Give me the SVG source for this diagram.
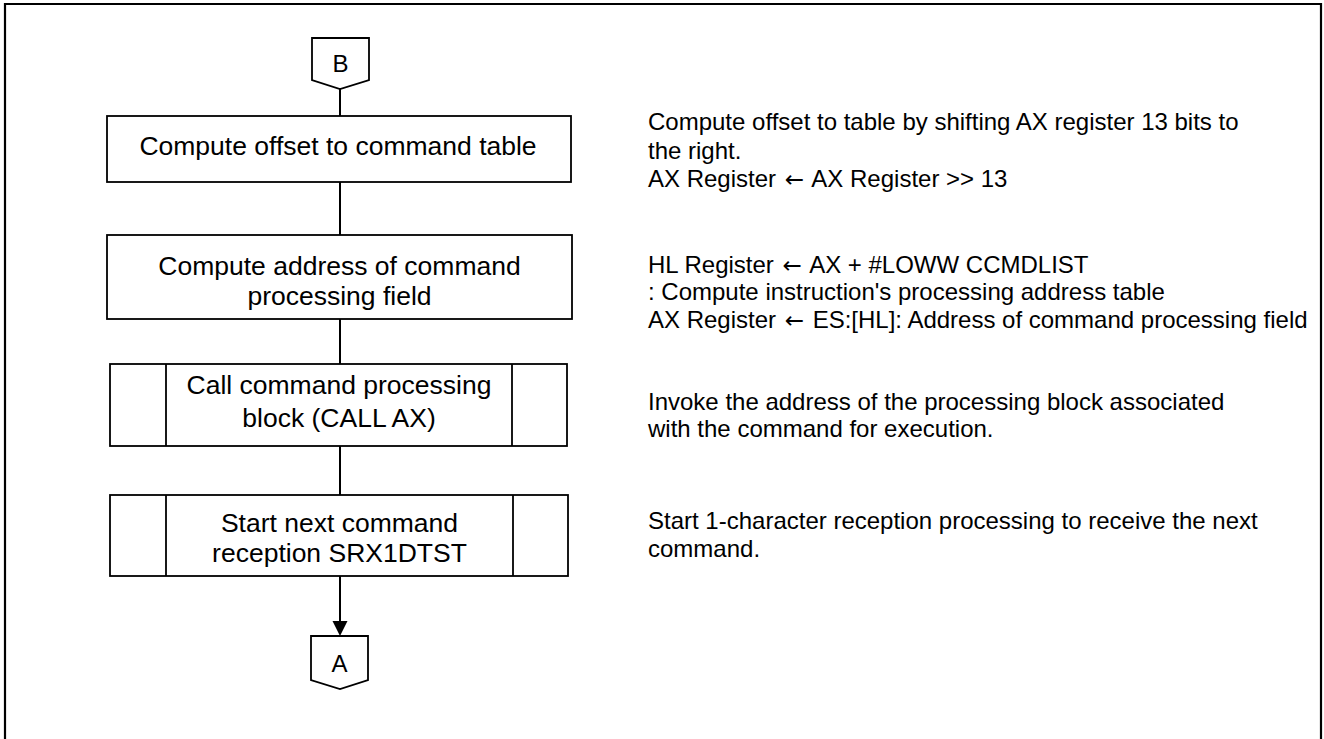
<svg xmlns="http://www.w3.org/2000/svg" width="1324" height="739" viewBox="0 0 1324 739">
<defs>
<style>
.bx{fill:#fff;stroke:#000;stroke-width:1.8}
.ln{fill:none;stroke:#000;stroke-width:2}
.bt{font-family:"Liberation Sans",Arial,sans-serif;font-size:26.5px;fill:#000;text-anchor:middle}
.ct{font-family:"Liberation Sans",Arial,sans-serif;font-size:24px;fill:#000;text-anchor:middle}
.rt{font-family:"Liberation Sans",Arial,sans-serif;font-size:24px;fill:#000}
.ar{font-family:"DejaVu Sans",sans-serif;font-size:23px}
</style>
</defs>
<rect width="1324" height="739" fill="#fff"/>
<path d="M5,745 V4 H1321 V745" fill="none" stroke="#000" stroke-width="2.2"/>

<g id="connectors">
<line class="ln" x1="340" y1="89" x2="340" y2="116"/>
<line class="ln" x1="340" y1="182" x2="340" y2="235"/>
<line class="ln" x1="340" y1="319" x2="340" y2="364"/>
<line class="ln" x1="340" y1="446" x2="340" y2="495"/>
<line class="ln" x1="340" y1="576" x2="340" y2="622"/>
<path d="M332.5,621 L347.5,621 L340,636 Z" fill="#000"/>
</g>

<g id="connB">
<polygon class="bx" points="312,38 369,38 369,80 340,89 312,80"/>
<text class="ct" x="340.5" y="72">B</text>
</g>

<g id="box1">
<rect class="bx" x="107" y="116" width="464" height="66"/>
<text class="bt" x="338" y="155">Compute offset to command table</text>
</g>

<g id="box2">
<rect class="bx" x="107" y="235" width="465" height="84"/>
<text class="bt" x="339.5" y="275">Compute address of command</text>
<text class="bt" x="339.5" y="305">processing field</text>
</g>

<g id="box3">
<rect class="bx" x="110" y="364" width="457" height="82"/>
<line class="bx" x1="166" y1="364" x2="166" y2="446"/>
<line class="bx" x1="512" y1="364" x2="512" y2="446"/>
<text class="bt" x="339" y="394">Call command processing</text>
<text class="bt" x="339" y="427">block (CALL AX)</text>
</g>

<g id="box4">
<rect class="bx" x="110" y="495" width="458" height="81"/>
<line class="bx" x1="166" y1="495" x2="166" y2="576"/>
<line class="bx" x1="513" y1="495" x2="513" y2="576"/>
<text class="bt" x="339.5" y="532">Start next command</text>
<text class="bt" x="339.5" y="562">reception SRX1DTST</text>
</g>

<g id="connA">
<polygon class="bx" points="311,636 368,636 368,680 340,689 311,680"/>
<text class="ct" x="339.5" y="672">A</text>
</g>

<g id="notes">
<text class="rt" x="648" y="130">Compute offset to table by shifting AX register 13 bits to</text>
<text class="rt" x="648" y="158.5">the right.</text>
<text class="rt" x="648" y="187">AX Register <tspan class="ar" dx="2">←</tspan><tspan dx="2"> AX Register &gt;&gt; 13</tspan></text>
<text class="rt" x="648" y="273">HL Register <tspan class="ar" dx="2">←</tspan><tspan dx="2"> AX + #LOWW CCMDLIST</tspan></text>
<text class="rt" x="648" y="300">: Compute instruction's processing address table</text>
<text class="rt" x="648" y="328">AX Register <tspan class="ar" dx="2">←</tspan><tspan dx="2"> ES:[HL]: Address of command processing field</tspan></text>
<text class="rt" x="648" y="410">Invoke the address of the processing block associated</text>
<text class="rt" x="648" y="437">with the command for execution.</text>
<text class="rt" x="648" y="529">Start 1-character reception processing to receive the next</text>
<text class="rt" x="648" y="557">command.</text>
</g>
</svg>
